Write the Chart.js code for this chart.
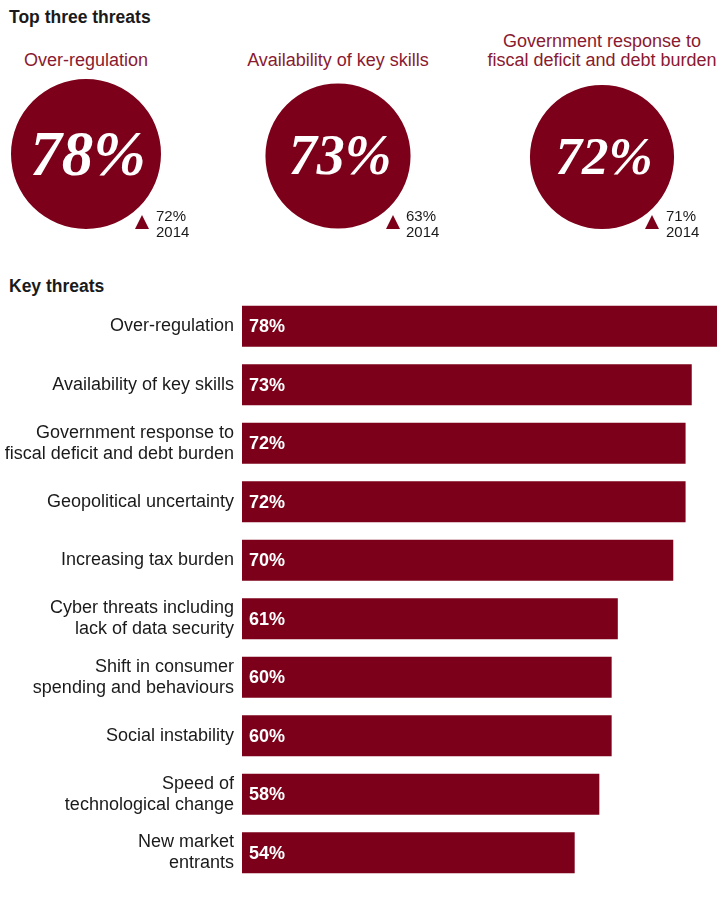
<!DOCTYPE html>
<html>
<head>
<meta charset="utf-8">
<script src="https://cdn.jsdelivr.net/npm/chart.js@4.4.1/dist/chart.umd.min.js"></script>
<style>
  body { margin: 0; background: #fff; width: 717px; height: 904px; position: relative; overflow: hidden;
         font-family: 'Liberation Sans', Arial, sans-serif; color: #1a1a1a; }
  .head { position: absolute; left: 9px; font-weight: bold; font-size: 17.5px; line-height: 18px; }
  .ttl { position: absolute; color: #8a1a30; font-size: 18px; line-height: 19px; text-align: center;
         transform: translateX(-50%); white-space: nowrap; }
  .pie { position: absolute; }
  .prev { position: absolute; font-size: 15px; line-height: 16px; }
  .tri { position: absolute; width: 0; height: 0; border-left: 7px solid transparent;
         border-right: 7px solid transparent; border-bottom: 14px solid #7c0019; }
  #bars { position: absolute; left: 0; top: 297px; }
</style>
</head>
<body>
<div class="head" style="top:8px">Top three threats</div>
<div class="head" style="top:277px">Key threats</div>
<div id="top"></div>
<canvas id="bars" width="717" height="585"></canvas>
<script>
// Top three threats
const topThreats = [['Over-regulation'], ['Availability of key skills'], ['Government response to', 'fiscal deficit and debt burden']];
const topValues = [78, 73, 72];
const prevValues = [72, 63, 71];
const prevYear = '2014';

// Key threats
const threatLabels = [
  ['Over-regulation'],
  ['Availability of key skills'],
  ['Government response to', 'fiscal deficit and debt burden'],
  ['Geopolitical uncertainty'],
  ['Increasing tax burden'],
  ['Cyber threats including', 'lack of data security'],
  ['Shift in consumer', 'spending and behaviours'],
  ['Social instability'],
  ['Speed of', 'technological change'],
  ['New market', 'entrants']
];
const threatValues = [78, 73, 72, 72, 70, 61, 60, 60, 58, 54];

const RED = '#7c0019';

// layout of the three circles
const circleX = [86, 338, 602];
const circleBottom = 229;
const maxR = 75;
const bigFont = [63, 56, 53];
const triX = [135, 386, 645];
const prevX = [156, 406, 666];

const topBox = document.getElementById('top');

topValues.forEach((v, i) => {
  // title
  const t = document.createElement('div');
  t.className = 'ttl';
  t.style.left = circleX[i] + 'px';
  t.style.top = (70 - 19 * topThreats[i].length) + 'px';
  t.innerHTML = topThreats[i].join('<br>');
  topBox.appendChild(t);

  // circle
  const r = maxR * Math.sqrt(v / topValues[0]);
  const cv = document.createElement('canvas');
  cv.className = 'pie';
  cv.width = 150; cv.height = 150;
  cv.style.left = (circleX[i] - 75) + 'px';
  cv.style.top = (circleBottom - r - 75) + 'px';
  topBox.appendChild(cv);

  const centerText = {
    id: 'centerText',
    afterDraw(chart) {
      const el = chart.getDatasetMeta(0).data[0];
      const c = chart.ctx;
      c.save();
      c.font = `italic bold ${bigFont[i]}px 'Liberation Serif', serif`;
      c.fillStyle = '#fff';
      c.textAlign = 'center';
      c.textBaseline = 'alphabetic';
      c.fillText(v + '%', el.x + 2, el.y + bigFont[i] * 0.33);
      c.restore();
    }
  };

  new Chart(cv, {
    type: 'pie',
    plugins: [centerText],
    data: { labels: [topThreats[i].join(' ')], datasets: [{ data: [v], backgroundColor: RED, borderWidth: 0 }] },
    options: {
      responsive: false,
      animation: false,
      radius: (r / maxR * 100) + '%',
      layout: { padding: 0 },
      plugins: { legend: { display: false }, tooltip: { enabled: false } }
    }
  });

  // 2014 comparison
  const tr = document.createElement('div');
  tr.className = 'tri';
  tr.style.left = triX[i] + 'px';
  tr.style.top = '215px';
  topBox.appendChild(tr);

  const p = document.createElement('div');
  p.className = 'prev';
  p.style.left = prevX[i] + 'px';
  p.style.top = '208px';
  p.innerHTML = prevValues[i] + '%<br>' + prevYear;
  topBox.appendChild(p);
});

// value labels inside the bars
const barLabels = {
  id: 'barLabels',
  afterDatasetsDraw(chart) {
    const { ctx } = chart;
    ctx.save();
    ctx.font = "bold 18px 'Liberation Sans', Arial, sans-serif";
    ctx.fillStyle = '#fff';
    ctx.textBaseline = 'middle';
    chart.getDatasetMeta(0).data.forEach((bar, i) => {
      ctx.fillText(threatValues[i] + '%', bar.base + 7, bar.y + 1);
    });
    ctx.restore();
  }
};

new Chart(document.getElementById('bars'), {
  type: 'bar',
  plugins: [barLabels],
  data: {
    labels: threatLabels,
    datasets: [{
      data: threatValues,
      backgroundColor: RED,
      barPercentage: 0.7,
      categoryPercentage: 1,
      borderWidth: 0
    }]
  },
  options: {
    indexAxis: 'y',
    responsive: false,
    animation: false,
    layout: { padding: 0 },
    scales: {
      // the longest bar runs off the right edge, as in the original
      x: { display: false, min: 0, max: 77.1 },
      y: {
        grid: { display: false, drawTicks: false },
        border: { display: false },
        ticks: {
          padding: 8,
          color: '#1a1a1a',
          font: { family: "'Liberation Sans', Arial, sans-serif", size: 18, lineHeight: 1.17 }
        },
        afterFit(scale) {
          scale.width = 242;
          scale.paddingTop = 0;
          scale.paddingBottom = 0;
        }
      }
    },
    plugins: { legend: { display: false }, tooltip: { enabled: false } }
  }
});
</script>
</body>
</html>
